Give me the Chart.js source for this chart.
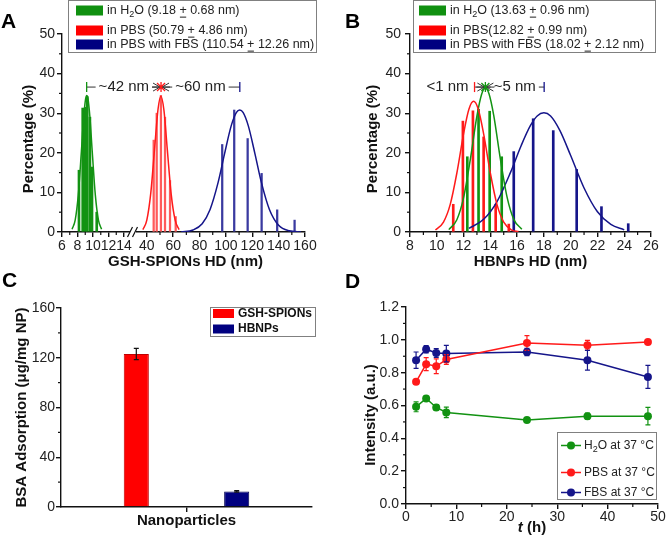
<!DOCTYPE html>
<html>
<head>
<meta charset="utf-8">
<title>Nanoparticle size and protein adsorption</title>
<script src="https://cdn.jsdelivr.net/npm/chart.js"></script>
<style>
    body { margin: 0; background: #fff; }
    #fig { position: relative; width: 666px; height: 545px; font-family: "Liberation Sans", Arial, sans-serif; }
    canvas { position: absolute; }
    .tag { position: absolute; font-weight: bold; font-size: 21px; line-height: 1; color: #000; }
</style>
</head>
<body>
<div id="fig">
    <canvas id="chartA" width="333" height="280" style="left:0;top:0"></canvas>
    <canvas id="chartB" width="333" height="280" style="left:333px;top:0"></canvas>
    <canvas id="chartC" width="333" height="265" style="left:0;top:280px"></canvas>
    <canvas id="chartD" width="333" height="265" style="left:333px;top:280px"></canvas>
    <div class="tag" style="left:1px;top:10px">A</div>
    <div class="tag" style="left:345px;top:10px">B</div>
    <div class="tag" style="left:2px;top:269px">C</div>
    <div class="tag" style="left:345px;top:270px">D</div>
</div>

<script>
    // ---------- panel A : GSH-SPIONs hydrodynamic diameter ----------
    const aTicksLow = [6, 8, 10, 12, 14];
    const aTicksHigh = [40, 60, 80, 100, 120, 140, 160];
    const aMinorLow = [7, 9, 11, 13];
    const aMinorHigh = [50, 70, 90, 110, 130, 150];

    const aH2oBins = [8.19, 8.67, 9.0, 9.26, 9.6, 9.87, 10.48];
    const aH2oPct = [15.6, 31.3, 31.5, 34.2, 29, 16.4, 5.0];
    const aH2oFitX = [7.3, 7.7, 8.1, 8.5, 8.8, 9.05, 9.2, 9.35, 9.6, 9.9, 10.3, 10.7, 11.1];
    const aH2oFitY = [0.7, 3.0, 9.3, 20.3, 29, 33.7, 34.5, 33.7, 29, 20.3, 9.3, 3.0, 0.7];

    const aPbsBins = [45.2, 47.5, 50.7, 53.8, 57.6, 61.9];
    const aPbsPct = [23.2, 30, 34.5, 29, 13, 3.9];
    const aPbsFitX = [37, 40, 43, 46, 48.5, 50.7, 53, 55.5, 58.5, 61.5, 64.5];
    const aPbsFitY = [0.6, 3.0, 9.8, 21.5, 31, 34.3, 30.7, 21, 9.5, 3.0, 0.6];

    const aFbsBins = [97.2, 106.3, 116.5, 127.1, 138.9, 152.1];
    const aFbsPct = [22.1, 30.8, 23.6, 14.8, 5.6, 3.0];
    const aFbsFitX = [66, 75, 82, 88, 94, 99, 104, 108, 110.5, 113, 117, 122, 127, 133, 140, 148, 157];
    const aFbsFitY = [0.0, 0.5, 2.1, 5.7, 12.4, 19.8, 26.8, 30.2, 30.8, 30.2, 26.8, 19.8, 12.4, 5.7, 1.7, 0.3, 0.0];

    const aGapAt = [9.18, 50.79, 110.54];
    const aGapText = ['~42 nm', '~60 nm'];
    const aLegend = [
        ['in H', { sub: '2' }, 'O (9.18 ', { ul: '+' }, ' 0.68 nm)'],
        ['in PBS (50.79 ', { ul: '+' }, ' 4.86 nm)'],
        ['in PBS with FBS (110.54 ', { ul: '+' }, ' 12.26 nm)']
    ];

    // ---------- panel B : HBNPs hydrodynamic diameter ----------
    const bTicks = [8, 10, 12, 14, 16, 18, 20, 22, 24, 26];
    const bMinor = [9, 11, 13, 15, 17, 19, 21, 23, 25];

    const bH2oBins = [12.28, 13.12, 13.95, 14.85];
    const bH2oPct = [19, 31, 30.5, 19];
    const bH2oFitX = [10.9, 11.5, 12, 12.5, 13, 13.35, 13.63, 13.9, 14.25, 14.75, 15.25, 15.75, 16.35];
    const bH2oFitY = [0.6, 3.1, 8.6, 18.2, 29.3, 34.8, 36.3, 34.9, 29.5, 18.4, 8.8, 3.2, 0.7];

    const bPbsBins = [11.23, 11.95, 12.7, 13.5, 14.4, 15.38];
    const bPbsPct = [7, 28, 30.6, 24, 7, 2];
    const bPbsFitX = [9.9, 10.5, 11, 11.5, 12, 12.4, 12.75, 13.1, 13.5, 14, 14.5, 15, 15.6, 16.1];
    const bPbsFitY = [0.5, 2.5, 6.9, 14.9, 24.8, 31, 33, 31, 24.8, 14.9, 6.9, 2.5, 0.5, 0.1];

    const bFbsBins = [15.75, 17.2, 18.7, 20.45, 22.3, 24.3];
    const bFbsPct = [20.3, 28.6, 25.6, 15.8, 6.4, 2.1];
    const bFbsFitX = [12.4, 13.5, 14.5, 15.5, 16.3, 17, 17.5, 18, 18.5, 19.2, 20, 21, 22, 23, 24];
    const bFbsFitY = [0.9, 3.2, 7.7, 15.0, 21.8, 26.9, 29.3, 30.1, 29.3, 25.6, 19.3, 11.1, 5.1, 1.9, 0.55];

    const bGapAt = [12.82, 13.63, 18.02];
    const bGapText = ['<1 nm', '~5 nm'];
    const bLegend = [
        ['in H', { sub: '2' }, 'O (13.63 ', { ul: '+' }, ' 0.96 nm)'],
        ['in PBS(12.82 ', { ul: '+' }, ' 0.99 nm)'],
        ['in PBS with FBS (18.02 ', { ul: '+' }, ' 2.12 nm)']
    ];

    const pctTicks = [0, 10, 20, 30, 40, 50];
    const pctMinor = [5, 15, 25, 35, 45];
    const gapLevel = 36.6;

    // ---------- panel C : BSA adsorption ----------
    const cCategories = ['Nanoparticles'];
    const cSpions = [123];
    const cSpionsErr = [4.5];
    const cHbnps = [12.5];
    const cHbnpsErr = [0.6];
    const cTicks = [0, 40, 80, 120, 160];
    const cMinor = [20, 60, 100, 140];

    // ---------- panel D : intensity over time ----------
    const dTime = [2, 4, 6, 8, 24, 36, 48];
    const dH2o = [0.592, 0.643, 0.588, 0.558, 0.511, 0.535, 0.535];
    const dH2oErr = [0.03, 0.012, 0.018, 0.032, 0.012, 0.018, 0.053];
    const dPbs = [0.744, 0.852, 0.839, 0.880, 0.981, 0.967, 0.987];
    const dPbsErr = [0.012, 0.04, 0.045, 0.03, 0.045, 0.03, 0.012];
    const dFbs = [0.876, 0.943, 0.920, 0.916, 0.926, 0.876, 0.774];
    const dFbsErr = [0.05, 0.022, 0.027, 0.05, 0.022, 0.06, 0.07];
    const dXTicks = [0, 10, 20, 30, 40, 50];
    const dXMinor = [5, 15, 25, 35, 45];
    const dYTicks = [0, 0.2, 0.4, 0.6, 0.8, 1.0, 1.2];
    const dYMinor = [0.1, 0.3, 0.5, 0.7, 0.9, 1.1];
    const dLegend = [
        ['H', { sub: '2' }, 'O at 37 °C'],
        ['PBS at 37 °C'],
        ['FBS at 37 °C']
    ];

    const GREEN = '#139313';
    const RED = '#ff1a1a';
    const NAVY = '#15158a';
    const FONT = '"Liberation Sans", Arial, sans-serif';

    Chart.defaults.font.family = FONT;
    Chart.defaults.font.size = 14;
    Chart.defaults.color = '#222';
    Chart.defaults.animation = false;
    Chart.defaults.plugins.legend.display = false;
    Chart.defaults.plugins.tooltip.enabled = false;

    function pts(xs, ys) {
        return xs.map((x, i) => ({ x: x, y: ys[i] }));
    }
    function fixTicks(values) {
        return function (scale) { scale.ticks = values.map(v => ({ value: v })); };
    }
    function font(size, weight, style) {
        return (style || 'normal') + ' ' + (weight || 'normal') + ' ' + size + 'px ' + FONT;
    }
    const border = { display: true, color: '#111', width: 1.4 };
    const grid = { drawOnChartArea: false, offset: false, tickLength: 5, color: '#111', lineWidth: 1.4 };
    function tickOpts(extra) {
        return Object.assign({ color: '#222', font: { size: 14 }, padding: 1, autoSkip: false, maxRotation: 0, minRotation: 0 }, extra || {});
    }

    // rotated axis title drawn at a set centre
    function yTitle(ctx, text, cx, cy) {
        ctx.save();
        ctx.translate(cx, cy);
        ctx.rotate(-Math.PI / 2);
        ctx.fillStyle = '#111';
        ctx.font = font(15, 'bold');
        ctx.textAlign = 'center';
        ctx.textBaseline = 'middle';
        ctx.fillText(text, 0, 0);
        ctx.restore();
    }

    // text with subscripts and underlined signs
    function richText(ctx, parts, x, y, size, weight) {
        parts.forEach(p => {
            if (typeof p === 'string') {
                ctx.font = font(size, weight);
                ctx.fillText(p, x, y);
                x += ctx.measureText(p).width;
            } else if (p.sub) {
                ctx.font = font(Math.round(size * 0.72), weight);
                ctx.fillText(p.sub, x, y + size * 0.3);
                x += ctx.measureText(p.sub).width;
            } else if (p.ul) {
                ctx.font = font(size, weight);
                ctx.fillText(p.ul, x, y);
                const w = ctx.measureText(p.ul).width;
                ctx.fillRect(x + 0.5, y + size * 0.45, w - 1, 1);
                x += w;
            } else if (p.it) {
                ctx.font = font(size, weight, 'italic');
                ctx.fillText(p.it, x, y);
                x += ctx.measureText(p.it).width;
            }
        });
        return x;
    }
    function richWidth(ctx, parts, size, weight) {
        let w = 0;
        parts.forEach(p => {
            if (typeof p === 'string') { ctx.font = font(size, weight); w += ctx.measureText(p).width; }
            else if (p.sub) { ctx.font = font(Math.round(size * 0.72), weight); w += ctx.measureText(p.sub).width; }
            else if (p.ul) { ctx.font = font(size, weight); w += ctx.measureText(p.ul).width; }
            else if (p.it) { ctx.font = font(size, weight, 'italic'); w += ctx.measureText(p.it).width; }
        });
        return w;
    }

    function legendBox(ctx, x, y, w, h) {
        ctx.fillStyle = '#fff';
        ctx.fillRect(x, y, w, h);
        ctx.strokeStyle = '#808080';
        ctx.lineWidth = 1;
        ctx.strokeRect(x + 0.5, y + 0.5, w - 1, h - 1);
    }

    // minor tick marks, positioned by the scales
    const minorTicks = {
        id: 'minorTicks',
        afterDraw(chart, args, opts) {
            const ctx = chart.ctx;
            ctx.save();
            ctx.strokeStyle = '#111';
            ctx.lineWidth = 1.2;
            (opts.axes || []).forEach(a => {
                const s = chart.scales[a.id];
                a.values.forEach(v => {
                    const p = s.getPixelForValue(v);
                    ctx.beginPath();
                    if (s.isHorizontal()) { ctx.moveTo(p, s.top); ctx.lineTo(p, s.top + 3); }
                    else { ctx.moveTo(s.right - 3, p); ctx.lineTo(s.right, p); }
                    ctx.stroke();
                });
            });
            ctx.restore();
        }
    };

    // vertical error bars from dataset.errors
    const errorBars = {
        id: 'errorBars',
        afterDatasetsDraw(chart) {
            const ctx = chart.ctx;
            chart.data.datasets.forEach((ds, i) => {
                if (!ds.errors) return;
                const meta = chart.getDatasetMeta(i);
                const ys = chart.scales[meta.yAxisID];
                ctx.save();
                ctx.strokeStyle = ds.errorColor || ds.borderColor;
                ctx.lineWidth = 1.2;
                meta.data.forEach((el, j) => {
                    const raw = ds.data[j];
                    const v = typeof raw === 'object' ? raw.y : raw;
                    const e = ds.errors[j];
                    const top = ys.getPixelForValue(v + e);
                    const bot = ys.getPixelForValue(v - e);
                    const cap = ds.capWidth || 3;
                    ctx.beginPath();
                    ctx.moveTo(el.x, top); ctx.lineTo(el.x, bot);
                    ctx.moveTo(el.x - cap, top); ctx.lineTo(el.x + cap, top);
                    ctx.moveTo(el.x - cap, bot); ctx.lineTo(el.x + cap, bot);
                    ctx.stroke();
                });
                ctx.restore();
            });
        }
    };
    Chart.register(minorTicks, errorBars);

    // size-shift annotation: marks on the peaks, arrows into the middle one
    function drawGaps(chart, marks, texts, level) {
        const ctx = chart.ctx;
        const y = chart.scales.y.getPixelForValue(level);
        const xs = marks.map(m => chart.scales[m.axis].getPixelForValue(m.v));
        ctx.save();
        ctx.font = font(15);
        ctx.textBaseline = 'middle';
        ctx.strokeStyle = '#333';
        ctx.lineWidth = 1;
        ctx.beginPath();
        ctx.moveTo(xs[0], y); ctx.lineTo(xs[2], y);
        ctx.stroke();
        texts.forEach((t, i) => {
            const w = ctx.measureText(t).width;
            let left;
            if (xs[i + 1] - xs[i] < w + 12) {
                left = xs[i] - 6 - w;
            } else {
                left = (xs[i] + xs[i + 1]) / 2 - w / 2;
            }
            ctx.fillStyle = '#fff';
            ctx.fillRect(left - 3, y - 8, w + 6, 16);
            ctx.fillStyle = '#222';
            ctx.fillText(t, left, y);
        });
        // arrowheads pointing at the middle mark
        const xm = xs[1];
        ctx.beginPath();
        ctx.moveTo(xm - 8, y - 4); ctx.lineTo(xm - 1, y); ctx.lineTo(xm - 8, y + 4);
        ctx.moveTo(xm + 8, y - 4); ctx.lineTo(xm + 1, y); ctx.lineTo(xm + 8, y + 4);
        ctx.moveTo(xm - 9, y); ctx.lineTo(xm + 9, y);
        ctx.stroke();
        marks.forEach((m, i) => {
            ctx.strokeStyle = m.color;
            ctx.lineWidth = 1.3;
            ctx.beginPath();
            ctx.moveTo(xs[i], y - 5); ctx.lineTo(xs[i], y + 5);
            if (i === 1) {
                ctx.moveTo(xs[i] - 4, y - 4); ctx.lineTo(xs[i] + 4, y + 4);
                ctx.moveTo(xs[i] - 4, y + 4); ctx.lineTo(xs[i] + 4, y - 4);
            }
            ctx.stroke();
        });
        ctx.restore();
    }

    function lineSet(axis, xs, ys, color) {
        return { type: 'line', xAxisID: axis, data: pts(xs, ys), borderColor: color, borderWidth: 1.5,
                 pointRadius: 0, cubicInterpolationMode: 'monotone', order: 0 };
    }
    function barSet(axis, xs, ys, color, thick) {
        return { type: 'bar', xAxisID: axis, data: pts(xs, ys), backgroundColor: color, borderWidth: 0,
                 barThickness: thick, grouped: false, order: 1 };
    }

    // ---------- chart A ----------
    new Chart(document.getElementById('chartA'), {
        type: 'bar',
        data: {
            datasets: [
                lineSet('xLow', aH2oFitX, aH2oFitY, GREEN),
                lineSet('xHigh', aPbsFitX, aPbsFitY, RED),
                lineSet('xHigh', aFbsFitX, aFbsFitY, NAVY),
                barSet('xLow', aH2oBins, aH2oPct, GREEN, 2),
                barSet('xHigh', aPbsBins, aPbsPct, '#ff5a5a', 1.6),
                barSet('xHigh', aFbsBins, aFbsPct, '#3a3aa0', 1.6)
            ]
        },
        options: {
            responsive: false,
            devicePixelRatio: 1,
            layout: { padding: { left: 0, top: 34, right: 28, bottom: 0 } },
            scales: {
                xLow: {
                    type: 'linear', position: 'bottom', stack: 'hd', stackWeight: 69, min: 6, max: 14.9, offset: false,
                    border: border, grid: grid, ticks: tickOpts(),
                    afterBuildTicks: fixTicks(aTicksLow), afterFit: s => { s.height = 48; }
                },
                xHigh: {
                    type: 'linear', position: 'bottom', stack: 'hd', stackWeight: 174, min: 28, max: 160, offset: false,
                    border: border, grid: grid, ticks: tickOpts(),
                    afterBuildTicks: fixTicks(aTicksHigh), afterFit: s => { s.height = 48; }
                },
                y: {
                    type: 'linear', position: 'left', min: 0, max: 50,
                    border: border, grid: grid, ticks: tickOpts({ padding: 2 }),
                    afterBuildTicks: fixTicks(pctTicks), afterFit: s => { s.width = 62; }
                }
            },
            plugins: {
                minorTicks: { axes: [{ id: 'xLow', values: aMinorLow }, { id: 'xHigh', values: aMinorHigh }, { id: 'y', values: pctMinor }] }
            }
        },
        plugins: [{
            id: 'panelA',
            afterDraw(chart) {
                const ctx = chart.ctx;
                const area = chart.chartArea;
                const xb = chart.scales.xLow.right + 2;
                ctx.save();
                // axis break
                ctx.fillStyle = '#fff';
                ctx.fillRect(xb - 3, area.bottom - 2, 6, 4);
                ctx.strokeStyle = '#111';
                ctx.lineWidth = 1.2;
                ctx.beginPath();
                ctx.moveTo(xb - 5.5, area.bottom + 5); ctx.lineTo(xb - 0.5, area.bottom - 5);
                ctx.moveTo(xb - 0.5, area.bottom + 5); ctx.lineTo(xb + 4.5, area.bottom - 5);
                ctx.stroke();
                // axis titles
                ctx.fillStyle = '#111';
                ctx.font = font(15, 'bold');
                ctx.textAlign = 'center';
                ctx.textBaseline = 'middle';
                ctx.fillText('GSH-SPIONs HD (nm)', (area.left + area.right) / 2 + 2, 262);
                ctx.textAlign = 'left';
                yTitle(ctx, 'Percentage (%)', 29, 139);
                // legend
                legendBox(ctx, 68, 0, 249, 53);
                const cols = ['#109010', '#ff0000', '#000080'];
                const rowY = [10.5, 30.5, 44.5];
                aLegend.forEach((parts, i) => {
                    ctx.fillStyle = cols[i];
                    ctx.fillRect(76, rowY[i] - 5, 27, 10);
                    ctx.fillStyle = '#222';
                    richText(ctx, parts, 107, rowY[i] + 0.5, 12.5);
                });
                ctx.restore();
                drawGaps(chart, [
                    { axis: 'xLow', v: aGapAt[0], color: GREEN },
                    { axis: 'xHigh', v: aGapAt[1], color: RED },
                    { axis: 'xHigh', v: aGapAt[2], color: NAVY }
                ], aGapText, gapLevel);
            }
        }]
    });

    // ---------- chart B ----------
    new Chart(document.getElementById('chartB'), {
        type: 'bar',
        data: {
            datasets: [
                lineSet('x', bPbsFitX, bPbsFitY, RED),
                lineSet('x', bH2oFitX, bH2oFitY, GREEN),
                lineSet('x', bFbsFitX, bFbsFitY, NAVY),
                barSet('x', bPbsBins, bPbsPct, RED, 2),
                barSet('x', bH2oBins, bH2oPct, GREEN, 2),
                barSet('x', bFbsBins, bFbsPct, NAVY, 2)
            ]
        },
        options: {
            responsive: false,
            devicePixelRatio: 1,
            layout: { padding: { left: 0, top: 34, right: 15, bottom: 0 } },
            scales: {
                x: {
                    type: 'linear', position: 'bottom', min: 8, max: 26, offset: false,
                    border: border, grid: grid, ticks: tickOpts(),
                    title: { display: true, text: 'HBNPs HD (nm)', color: '#111', font: { size: 15, weight: 'bold' }, padding: { top: 0, bottom: 9 } },
                    afterBuildTicks: fixTicks(bTicks), afterFit: s => { s.height = 48; }
                },
                y: {
                    type: 'linear', position: 'left', min: 0, max: 50,
                    border: border, grid: grid, ticks: tickOpts({ padding: 4 }),
                    afterBuildTicks: fixTicks(pctTicks), afterFit: s => { s.width = 77; }
                }
            },
            plugins: {
                minorTicks: { axes: [{ id: 'x', values: bMinor }, { id: 'y', values: pctMinor }] }
            }
        },
        plugins: [{
            id: 'panelB',
            afterDraw(chart) {
                const ctx = chart.ctx;
                ctx.save();
                yTitle(ctx, 'Percentage (%)', 40, 139);
                legendBox(ctx, 80, 0, 243, 53);
                const cols = ['#109010', '#ff0000', '#000080'];
                const rowY = [10.5, 30.5, 44.5];
                ctx.textBaseline = 'middle';
                bLegend.forEach((parts, i) => {
                    ctx.fillStyle = cols[i];
                    ctx.fillRect(86, rowY[i] - 5, 27, 10);
                    ctx.fillStyle = '#222';
                    richText(ctx, parts, 117, rowY[i] + 0.5, 12.5);
                });
                ctx.restore();
                drawGaps(chart, [
                    { axis: 'x', v: bGapAt[0], color: RED },
                    { axis: 'x', v: bGapAt[1], color: GREEN },
                    { axis: 'x', v: bGapAt[2], color: NAVY }
                ], bGapText, gapLevel);
            }
        }]
    });

    // ---------- chart C ----------
    new Chart(document.getElementById('chartC'), {
        type: 'bar',
        data: {
            labels: cCategories,
            datasets: [
                { label: 'GSH-SPIONs', data: cSpions, errors: cSpionsErr, errorColor: '#111', capWidth: 2.5,
                  backgroundColor: '#ff0000', borderColor: '#c00000', borderWidth: 1, barPercentage: 0.25, categoryPercentage: 0.8 },
                { label: 'HBNPs', data: cHbnps, errors: cHbnpsErr, errorColor: '#111', capWidth: 2.5,
                  backgroundColor: '#000080', borderColor: '#000050', borderWidth: 1, barPercentage: 0.25, categoryPercentage: 0.8 }
            ]
        },
        options: {
            responsive: false,
            devicePixelRatio: 1,
            layout: { padding: { left: 0, top: 28, right: 21, bottom: 0 } },
            scales: {
                x: {
                    type: 'category', offset: true,
                    border: border, grid: grid,
                    ticks: tickOpts({ padding: 0, color: '#111', font: { size: 15, weight: 'bold' } }),
                    afterFit: s => { s.height = 38; }
                },
                y: {
                    type: 'linear', position: 'left', min: 0, max: 160,
                    border: border, grid: grid, ticks: tickOpts({ padding: 1 }),
                    title: { display: true, text: 'BSA Adsorption (μg/mg NP)', color: '#111', font: { size: 15, weight: 'bold' }, padding: { top: 13, bottom: 0 } },
                    afterBuildTicks: fixTicks(cTicks), afterFit: s => { s.width = 61; }
                }
            },
            plugins: {
                minorTicks: { axes: [{ id: 'y', values: cMinor }] }
            }
        },
        plugins: [{
            id: 'panelC',
            afterDraw(chart) {
                const ctx = chart.ctx;
                ctx.save();
                legendBox(ctx, 210, 27, 106, 30);
                ctx.textBaseline = 'middle';
                const rowY = [33.5, 49];
                chart.data.datasets.forEach((ds, i) => {
                    ctx.fillStyle = ds.backgroundColor;
                    ctx.fillRect(213, rowY[i] - 4.5, 21, 9);
                    ctx.fillStyle = '#111';
                    richText(ctx, [ds.label], 238, rowY[i], 12, 'bold');
                });
                ctx.restore();
            }
        }]
    });

    // ---------- chart D ----------
    function seriesD(values, errs, color) {
        return { data: pts(dTime, values), errors: errs, capWidth: 2.5, borderColor: color, backgroundColor: color,
                 borderWidth: 1.5, pointRadius: 4, pointBorderWidth: 0, pointBackgroundColor: color, tension: 0 };
    }
    new Chart(document.getElementById('chartD'), {
        type: 'line',
        data: {
            datasets: [
                seriesD(dH2o, dH2oErr, '#129212'),
                seriesD(dPbs, dPbsErr, '#ff1a1a'),
                seriesD(dFbs, dFbsErr, '#15158a')
            ]
        },
        options: {
            responsive: false,
            devicePixelRatio: 1,
            layout: { padding: { left: 0, top: 27, right: 8, bottom: 0 } },
            scales: {
                x: {
                    type: 'linear', position: 'bottom', min: 0, max: 50,
                    border: border, grid: grid, ticks: tickOpts({ padding: 0 }),
                    afterBuildTicks: fixTicks(dXTicks), afterFit: s => { s.height = 41; }
                },
                y: {
                    type: 'linear', position: 'left', min: 0, max: 1.2,
                    border: border, grid: grid,
                    ticks: tickOpts({ padding: 2, callback: v => v.toFixed(1) }),
                    afterBuildTicks: fixTicks(dYTicks), afterFit: s => { s.width = 73; }
                }
            },
            plugins: {
                minorTicks: { axes: [{ id: 'x', values: dXMinor }, { id: 'y', values: dYMinor }] }
            }
        },
        plugins: [{
            id: 'panelD',
            afterDraw(chart) {
                const ctx = chart.ctx;
                const area = chart.chartArea;
                yTitle(ctx, 'Intensity (a.u.)', 38, 135);
                ctx.save();
                ctx.textBaseline = 'middle';
                // x title with italic t
                ctx.fillStyle = '#111';
                const title = [{ it: 't' }, ' (h)'];
                const tw = richWidth(ctx, title, 15, 'bold');
                richText(ctx, title, (area.left + area.right) / 2 - tw / 2, 248, 15, 'bold');
                // legend
                legendBox(ctx, 224, 152, 100, 68);
                const rowY = [165.5, 192.5, 212.5];
                chart.data.datasets.forEach((ds, i) => {
                    ctx.strokeStyle = ds.borderColor;
                    ctx.lineWidth = 1.5;
                    ctx.beginPath();
                    ctx.moveTo(228, rowY[i]); ctx.lineTo(248, rowY[i]);
                    ctx.stroke();
                    ctx.fillStyle = ds.borderColor;
                    ctx.beginPath();
                    ctx.arc(238, rowY[i], 4, 0, Math.PI * 2);
                    ctx.fill();
                    ctx.fillStyle = '#222';
                    richText(ctx, dLegend[i], 251, rowY[i], 12);
                });
                ctx.restore();
            }
        }]
    });
</script>
</body>
</html>
